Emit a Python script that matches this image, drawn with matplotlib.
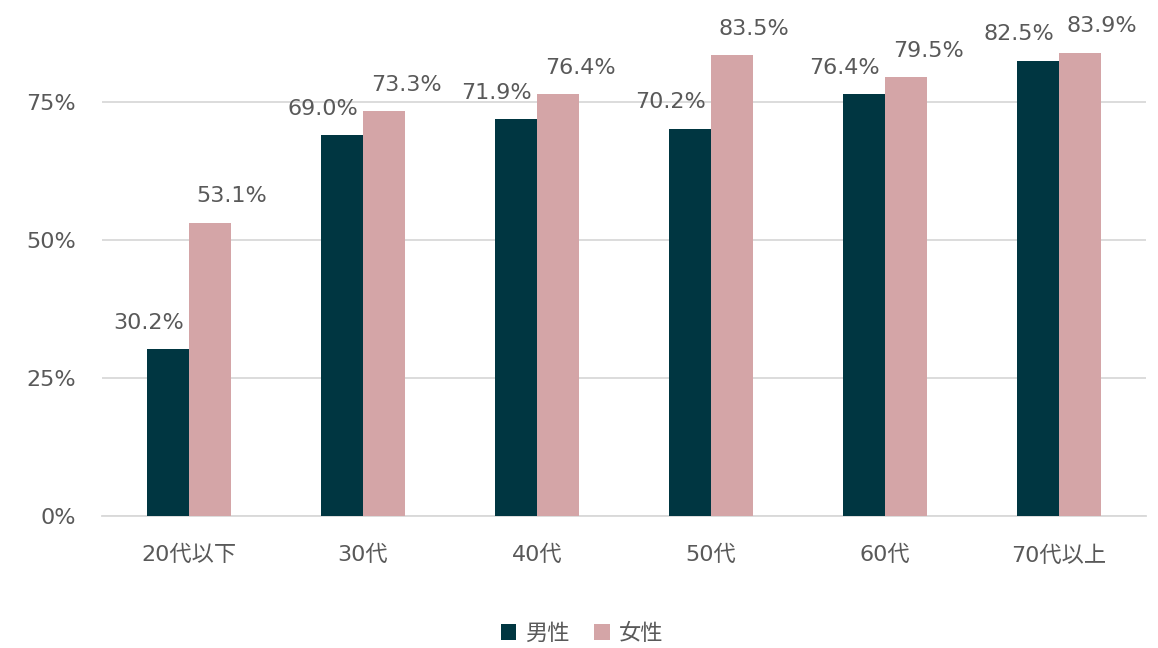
import numpy as np
import matplotlib
matplotlib.use('Agg')
import matplotlib.pyplot as plt
from matplotlib.ticker import FuncFormatter

# DejaVu for the digits (Verdana-like), Noto CJK for the Japanese text
plt.rcParams['font.family'] = ['DejaVu Sans', 'Noto Sans CJK JP']

# data
categories = ['20代以下', '30代', '40代', '50代', '60代', '70代以上']
male = [30.2, 69.0, 71.9, 70.2, 76.4, 82.5]
female = [53.1, 73.3, 76.4, 83.5, 79.5, 83.9]
yticks = [0, 25, 50, 75]

c_male = '#003641'
c_female = '#D4A5A7'
c_text = '#595959'
c_grid = '#D9D9D9'

fig = plt.figure(figsize=(11.58, 6.48), dpi=100)
ax = fig.add_axes([102/1158, 132/648, 1044/1158, 516/648])

x = np.arange(len(categories))
w = 0.24
b1 = ax.bar(x - w/2, male, w, color=c_male, label='男性', zorder=3)
b2 = ax.bar(x + w/2, female, w, color=c_female, label='女性', zorder=3)

# data labels, shifted outward a bit like the original
for rect, v in zip(b1, male):
    ax.annotate('{:.1f}%'.format(v), (rect.get_x() + rect.get_width()/2, v),
                xytext=(-14, 12), textcoords='offset points',
                ha='center', va='bottom', fontsize=16, color=c_text)
for rect, v in zip(b2, female):
    ax.annotate('{:.1f}%'.format(v), (rect.get_x() + rect.get_width()/2, v),
                xytext=(16, 12), textcoords='offset points',
                ha='center', va='bottom', fontsize=16, color=c_text)

ax.set_xlim(-0.5, len(categories) - 0.5)
ax.set_ylim(0, 93.5)
ax.set_yticks(yticks)
ax.yaxis.set_major_formatter(FuncFormatter(lambda v, p: '{:.0f}%'.format(v)))
ax.set_xticks(x)
ax.set_xticklabels(categories)
ax.tick_params(axis='y', length=0, pad=19, labelsize=16, labelcolor=c_text)
ax.tick_params(axis='x', length=0, pad=21, labelsize=16, labelcolor=c_text)
ax.grid(axis='y', color=c_grid, linewidth=1.3, zorder=0)
for s in ['top', 'right', 'left']:
    ax.spines[s].set_visible(False)
ax.spines['bottom'].set_color(c_grid)
ax.spines['bottom'].set_linewidth(1.3)

fig.legend(handles=[b1, b2], loc='center', bbox_to_anchor=(582/1158, 1 - 633/648),
           ncol=2, frameon=False, fontsize=16, labelcolor=c_text,
           handlelength=0.7, handleheight=0.7, handletextpad=0.4, columnspacing=1.1)

fig.savefig('out.png', dpi=100)
